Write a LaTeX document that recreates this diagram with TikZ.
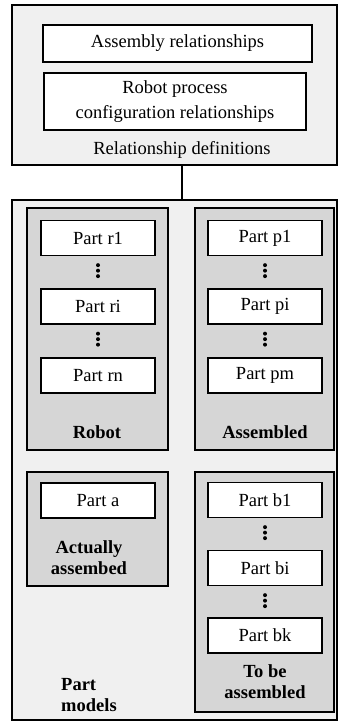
\documentclass[tikz,border=0pt]{standalone}
\usepackage{fontspec}
\setmainfont{Liberation Serif}
\usetikzlibrary{positioning}

\tikzset{
	outer/.style={draw, line width=1.2pt, fill=gray!12, inner sep=0pt},
	group/.style={draw, line width=1.3pt, fill=gray!32, inner sep=0pt},
	part/.style={draw, line width=1.3pt, fill=white, minimum width=114pt,
		minimum height=35pt, inner sep=0pt, font=\fontsize{18.5}{21}\selectfont},
	caption/.style={font=\fontsize{18.5}{21}\selectfont\bfseries, align=center, inner sep=0pt},
	vdots/.style={line width=4pt, line cap=round, dash pattern=on 0pt off 5.5pt,
		shorten >=9pt, shorten <=9pt}
}

\begin{document}
\begin{tikzpicture}[x=1pt, y=-1pt]
		\useasboundingbox (0,0) rectangle (339,722);
		% relationship definitions
		\node[outer, minimum width=325pt, minimum height=160pt] (defs) at (174.5,85) {};
		\node[part, minimum width=269pt, minimum height=37pt] (asm) at (177.5,43.5) {Assembly relationships};
		\node[part, minimum width=262pt, minimum height=57pt, align=center,
			font=\fontsize{18.5}{25}\selectfont] (rpc) at (175,101.5) {Robot process\\configuration relationships};
		\node[font=\fontsize{18.5}{21}\selectfont, inner sep=0pt] (reldef) at (182,150) {Relationship definitions};
		% part models
		\node[outer, minimum width=325pt, minimum height=520pt] (models) at (174.5,460) {};
		\draw[line width=1.2pt] (reldef |- defs.south) -- (reldef |- models.north);
		\node[group, minimum width=141pt, minimum height=242pt] (robot) at (97.5,329) {};
		\node[group, minimum width=139pt, minimum height=242pt] (assem) at (264.5,329) {};
		\node[group, minimum width=141pt, minimum height=114pt] (actual) at (97.5,529) {};
		\node[group, minimum width=139pt, minimum height=240pt] (tobe) at (264.5,592) {};
		\foreach \n/\y in {r1/238, ri/306.5, rn/375.5}
		\node[part] (\n) at (98,\y) {Part \n};
		\foreach \n/\y in {p1/238, pi/306.5, pm/375.5, b1/500, bi/568, bk/635.5}
		\node[part] (\n) at (265,\y) {Part \n};
		\node[part] (a) at (98,500.5) {Part a};
		\foreach \u/\v in {r1/ri, ri/rn, p1/pi, pi/pm, b1/bi, bi/bk}
		\draw[vdots] (\u) -- (\v);
		\node[caption] (robotlbl) at (97,432) {Robot};
		\node[caption] (assemlbl) at (265,432) {Assembled};
		\node[caption] (actuallbl) at (89,557.5) {Actually\\assembed};
		\node[caption] (tobelbl) at (265,681.5) {To be\\assembled};
		\node[caption, align=left, anchor=west] (modelslbl) at (61,695) {Part\\models};
	\end{tikzpicture}
\end{document}
